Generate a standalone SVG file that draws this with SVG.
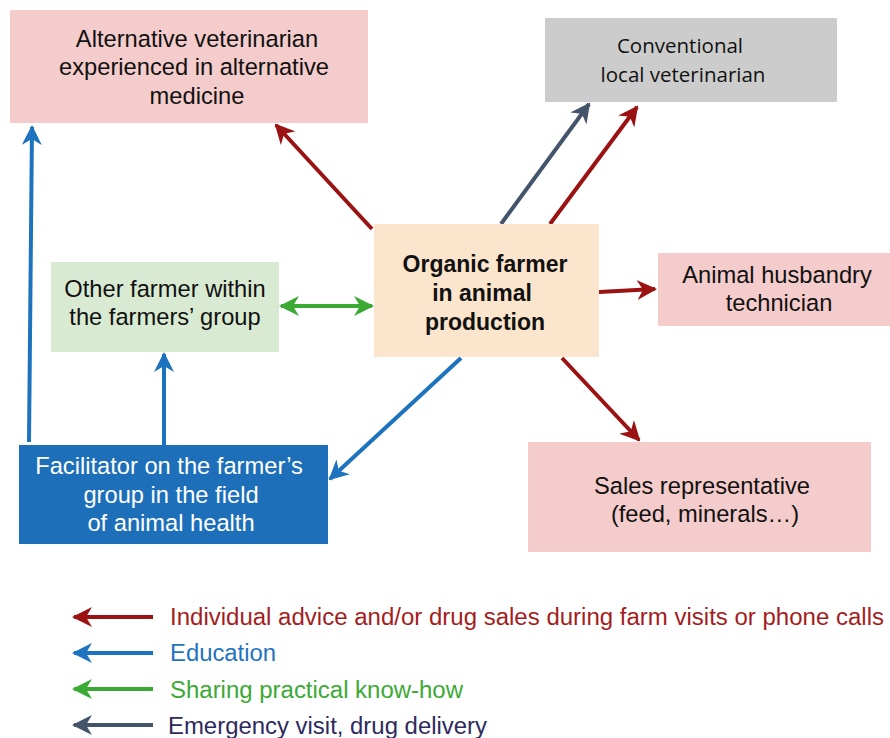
<svg xmlns="http://www.w3.org/2000/svg" width="890" height="738" viewBox="0 0 890 738">
<style>
.t{font-family:"Liberation Sans",Arial,sans-serif;font-size:23.7px;fill:#111;text-anchor:middle}
.b{font-weight:bold;font-size:23px}
.w{fill:#fff}
.c{font-family:"Open Sans","Liberation Sans",sans-serif;font-size:20.5px}
.l{font-family:"Liberation Sans",Arial,sans-serif;font-size:23px}
.ln{fill:none;stroke-width:4}
.red{stroke:#9b1212}.blue{stroke:#1e73be}.green{stroke:#3aaa35}.slate{stroke:#44546a}
</style>
<defs>
<marker id="ar" viewBox="0 0 10 10" refX="9" refY="5" markerWidth="5" markerHeight="5" orient="auto-start-reverse"><path d="M0,0 L10,5 L0,10 L3,5 Z" fill="#9b1212"/></marker>
<marker id="ab" viewBox="0 0 10 10" refX="9" refY="5" markerWidth="5" markerHeight="5" orient="auto-start-reverse"><path d="M0,0 L10,5 L0,10 L3,5 Z" fill="#1e73be"/></marker>
<marker id="ag" viewBox="0 0 10 10" refX="9" refY="5" markerWidth="5" markerHeight="5" orient="auto-start-reverse"><path d="M0,0 L10,5 L0,10 L3,5 Z" fill="#3aaa35"/></marker>
<marker id="as" viewBox="0 0 10 10" refX="9" refY="5" markerWidth="5" markerHeight="5" orient="auto-start-reverse"><path d="M0,0 L10,5 L0,10 L3,5 Z" fill="#44546a"/></marker>
</defs>
<rect width="890" height="738" fill="#fff"/>
<g id="connectors">
<line class="ln red" x1="372" y1="229" x2="276" y2="125" marker-end="url(#ar)"/>
<line class="ln slate" x1="501" y1="224" x2="589" y2="104" marker-end="url(#as)"/>
<line class="ln red" x1="550" y1="224" x2="637" y2="107" marker-end="url(#ar)"/>
<line class="ln red" x1="599" y1="292" x2="655" y2="289" marker-end="url(#ar)"/>
<line class="ln red" x1="562" y1="358" x2="639" y2="440" marker-end="url(#ar)"/>
<line class="ln blue" x1="461" y1="358" x2="330" y2="479" marker-end="url(#ab)"/>
<line class="ln green" x1="281" y1="306" x2="372" y2="306" marker-start="url(#ag)" marker-end="url(#ag)"/>
<line class="ln blue" x1="164" y1="445" x2="164" y2="354" marker-end="url(#ab)"/>
<line class="ln blue" x1="29" y1="442" x2="32" y2="127" marker-end="url(#ab)"/>
</g>
<g id="alt-vet">
<rect x="10" y="10" width="358" height="113" fill="#f4cccc"/>
<text class="t" x="197" y="47">Alternative veterinarian</text>
<text class="t" x="194" y="75">experienced in alternative</text>
<text class="t" x="197" y="104">medicine</text>
</g>
<g id="conv-vet">
<rect x="545" y="18" width="292" height="84" fill="#cccccc"/>
<text class="t c" x="680" y="53">Conventional</text>
<text class="t c" x="683" y="82">local veterinarian</text>
</g>
<g id="organic">
<rect x="374" y="224" width="225" height="133" fill="#fce5cd"/>
<text class="t b" x="485" y="272">Organic farmer</text>
<text class="t b" x="482" y="301">in animal</text>
<text class="t b" x="485" y="330">production</text>
</g>
<g id="husbandry">
<rect x="658" y="253" width="232" height="73" fill="#f4cccc"/>
<text class="t" x="777" y="283">Animal husbandry</text>
<text class="t" x="779" y="311">technician</text>
</g>
<g id="other-farmer">
<rect x="51" y="262" width="228" height="90" fill="#d9ead3"/>
<text class="t" x="165" y="297">Other farmer within</text>
<text class="t" x="165" y="325">the farmers’ group</text>
</g>
<g id="facilitator">
<rect x="19" y="445" width="309" height="99" fill="#1c6fb8"/>
<text class="t w" x="169" y="474">Facilitator on the farmer’s</text>
<text class="t w" x="171" y="503">group in the field</text>
<text class="t w" x="171" y="531">of animal health</text>
</g>
<g id="sales">
<rect x="528" y="442" width="343" height="110" fill="#f4cccc"/>
<text class="t" x="702" y="494">Sales representative</text>
<text class="t" x="705" y="522">(feed, minerals…)</text>
</g>
<g id="legend">
<line class="ln red" x1="153" y1="617" x2="74" y2="617" marker-end="url(#ar)"/>
<line class="ln blue" x1="153" y1="653" x2="74" y2="653" marker-end="url(#ab)"/>
<line class="ln green" x1="153" y1="689" x2="74" y2="689" marker-end="url(#ag)"/>
<line class="ln slate" x1="153" y1="725" x2="74" y2="725" marker-end="url(#as)"/>
<text class="l" x="170" y="625" fill="#a31d1d" textLength="714" lengthAdjust="spacingAndGlyphs">Individual advice and/or drug sales during farm visits or phone calls</text>
<text class="l" x="170" y="661" fill="#1f73c0" textLength="106" lengthAdjust="spacingAndGlyphs">Education</text>
<text class="l" x="170" y="698" fill="#3aaa35" textLength="293" lengthAdjust="spacingAndGlyphs">Sharing practical know-how</text>
<text class="l" x="168" y="734" fill="#2e2a5e" textLength="319" lengthAdjust="spacingAndGlyphs">Emergency visit, drug delivery</text>
</g>
</svg>
